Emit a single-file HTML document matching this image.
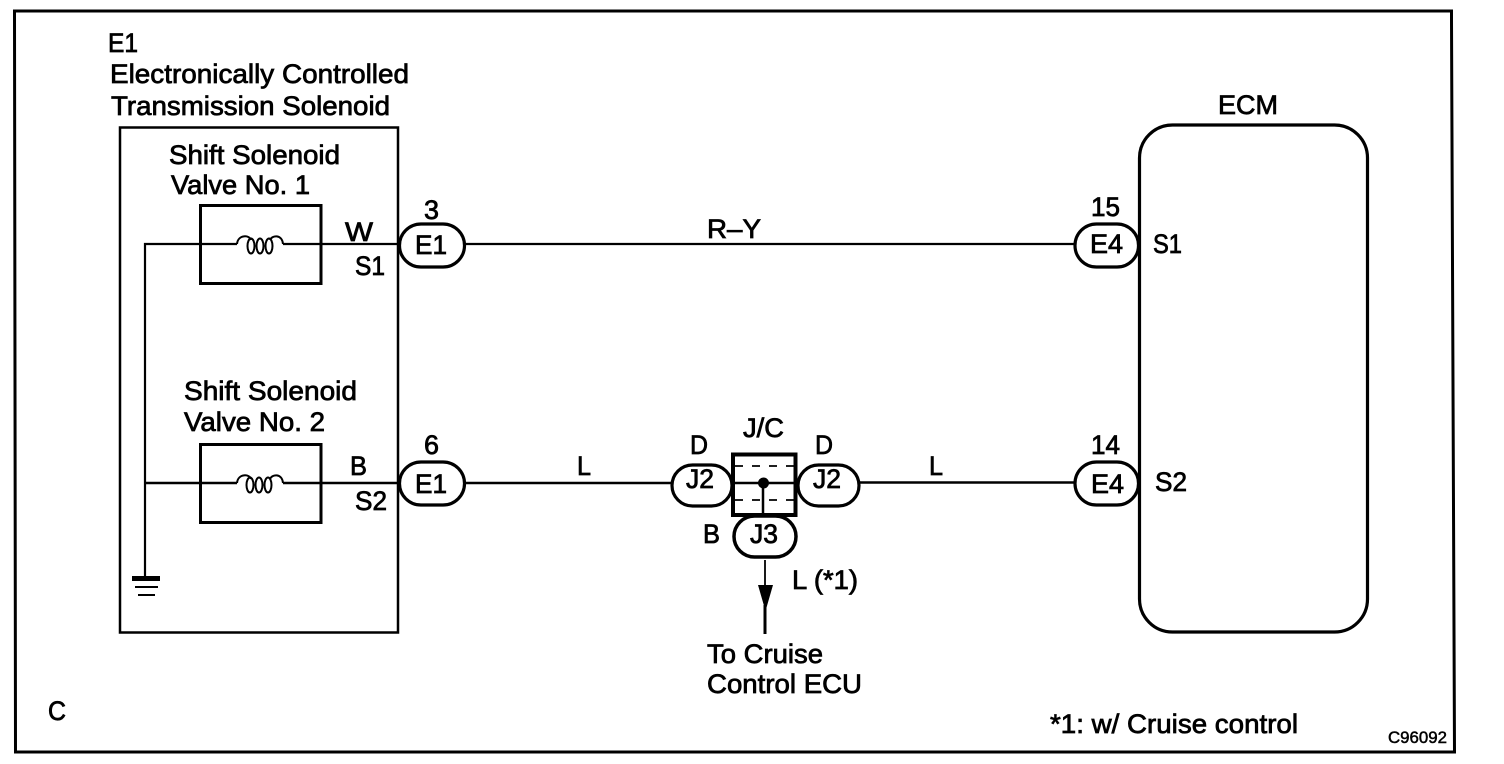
<!DOCTYPE html>
<html><head><meta charset="utf-8"><style>
html,body{margin:0;padding:0;background:#fff}
svg{display:block}
text{font-family:"Liberation Sans",Arial,sans-serif;font-size:26.5px;fill:#000;stroke:#000;stroke-width:.75}
</style></head><body>
<svg width="1504" height="764" viewBox="0 0 1504 764" xmlns="http://www.w3.org/2000/svg">
<rect width="1504" height="764" fill="#fff"/>
<g fill="none" stroke="#000">
<path d="M14.5 11H1451.500V20L1454.500 752H15.500Z" stroke-width="3"/>
<rect x="120" y="127.500" width="278" height="505" stroke-width="2.500"/>
<rect x="200.500" y="205.500" width="120.500" height="78" stroke-width="3"/>
<rect x="200.500" y="444.500" width="120.500" height="78" stroke-width="3"/>
<rect x="1139.500" y="125" width="228" height="507" rx="33" ry="33" stroke-width="3.200"/>
<path d="M145 578V244H237M283 244H398M465 244H1074" stroke-width="2.200"/>
<path d="M145 483H237M283 483H398M465 483H671M860 482.500H1074" stroke-width="2.500"/>
<path d="M237 244C238 234 250 235 251 240M270 240C272 235 282 234 283 244" stroke-width="2"/>
<path d="M237 483C238 473 250 474 251 479M270 479C272 474 282 473 283 483" stroke-width="2"/>
<ellipse cx="251" cy="246" rx="3.500" ry="7.500" stroke-width="2"/>
<ellipse cx="260" cy="246" rx="3.500" ry="7.500" stroke-width="2"/>
<ellipse cx="269" cy="246" rx="3.500" ry="7.500" stroke-width="2"/>
<ellipse cx="250" cy="485" rx="3.500" ry="7.500" stroke-width="2"/>
<ellipse cx="259" cy="485" rx="3.500" ry="7.500" stroke-width="2"/>
<ellipse cx="268" cy="485" rx="3.500" ry="7.500" stroke-width="2"/>
<rect x="399.500" y="224" width="65" height="43" rx="21.500" stroke-width="3.200" fill="#fff"/>
<rect x="399.500" y="462" width="65" height="43" rx="21.500" stroke-width="3.200" fill="#fff"/>
<rect x="1075" y="224" width="63.500" height="43" rx="21.500" stroke-width="3.200" fill="#fff"/>
<rect x="1075" y="462" width="63.500" height="43" rx="21.500" stroke-width="3.200" fill="#fff"/>
<rect x="672" y="465" width="60" height="41" rx="20.500" stroke-width="3.200" fill="#fff"/>
<rect x="798" y="465" width="61" height="41" rx="20.500" stroke-width="3.200" fill="#fff"/>
<rect x="734" y="516" width="62" height="41" rx="20.500" stroke-width="3.500" fill="#fff"/>
<rect x="733" y="454.500" width="62.500" height="60.500" stroke-width="4" fill="#fff"/>
<path d="M733 483H796M763 483V515" stroke-width="2.500"/>
<path d="M735 466H795M735 500H795" stroke-width="1.800" stroke-dasharray="8 9"/>
<path d="M765 560V590" stroke-width="1.800"/>
<path d="M765 605V634" stroke-width="3"/>
</g>
<circle cx="763.500" cy="483" r="5.500" fill="#000"/>
<path d="M758 585H773L765.500 611Z" fill="#000"/>
<rect x="132" y="576" width="28" height="5" fill="#000"/>
<rect x="135" y="586" width="23" height="2" fill="#000"/>
<rect x="138" y="594" width="17" height="2" fill="#000"/>

<text x="108" y="52" lengthAdjust="spacingAndGlyphs" textLength="30">E1</text>
<text x="110" y="83" lengthAdjust="spacingAndGlyphs" textLength="299">Electronically Controlled</text>
<text x="111" y="115" lengthAdjust="spacingAndGlyphs" textLength="279">Transmission Solenoid</text>
<text x="169" y="164" lengthAdjust="spacingAndGlyphs" textLength="171">Shift Solenoid</text>
<text x="171" y="194" lengthAdjust="spacingAndGlyphs" textLength="139">Valve No. 1</text>
<text x="184" y="400" lengthAdjust="spacingAndGlyphs" textLength="173">Shift Solenoid</text>
<text x="184" y="431" lengthAdjust="spacingAndGlyphs" textLength="141">Valve No. 2</text>
<text x="345" y="241" lengthAdjust="spacingAndGlyphs" textLength="28">W</text>
<text x="355" y="275" lengthAdjust="spacingAndGlyphs" textLength="30">S1</text>
<text x="424" y="219" lengthAdjust="spacingAndGlyphs" textLength="15">3</text>
<text x="415" y="254" lengthAdjust="spacingAndGlyphs" textLength="32">E1</text>
<text x="350" y="475" lengthAdjust="spacingAndGlyphs" textLength="17">B</text>
<text x="355" y="510" lengthAdjust="spacingAndGlyphs" textLength="32">S2</text>
<text x="424" y="454" lengthAdjust="spacingAndGlyphs" textLength="15">6</text>
<text x="415" y="493" lengthAdjust="spacingAndGlyphs" textLength="32">E1</text>
<text x="707" y="238" lengthAdjust="spacingAndGlyphs" textLength="54">R–Y</text>
<text x="577" y="475" lengthAdjust="spacingAndGlyphs" textLength="14">L</text>
<text x="929" y="475" lengthAdjust="spacingAndGlyphs" textLength="14">L</text>
<text x="743" y="437" lengthAdjust="spacingAndGlyphs" textLength="41">J/C</text>
<text x="690" y="454" lengthAdjust="spacingAndGlyphs" textLength="18">D</text>
<text x="815" y="454" lengthAdjust="spacingAndGlyphs" textLength="18">D</text>
<text x="686" y="488" lengthAdjust="spacingAndGlyphs" textLength="28">J2</text>
<text x="813" y="488" lengthAdjust="spacingAndGlyphs" textLength="28">J2</text>
<text x="703" y="543" lengthAdjust="spacingAndGlyphs" textLength="17">B</text>
<text x="750" y="543" lengthAdjust="spacingAndGlyphs" textLength="28">J3</text>
<text x="792" y="589" lengthAdjust="spacingAndGlyphs" textLength="66">L (*1)</text>
<text x="707" y="663" lengthAdjust="spacingAndGlyphs" textLength="116">To Cruise</text>
<text x="707" y="693" lengthAdjust="spacingAndGlyphs" textLength="155">Control ECU</text>
<text x="1091" y="216" lengthAdjust="spacingAndGlyphs" textLength="29">15</text>
<text x="1090" y="253" lengthAdjust="spacingAndGlyphs" textLength="33">E4</text>
<text x="1153" y="253" lengthAdjust="spacingAndGlyphs" textLength="29">S1</text>
<text x="1091" y="454" lengthAdjust="spacingAndGlyphs" textLength="29">14</text>
<text x="1091" y="493" lengthAdjust="spacingAndGlyphs" textLength="33">E4</text>
<text x="1155" y="491" lengthAdjust="spacingAndGlyphs" textLength="32">S2</text>
<text x="1218" y="114" lengthAdjust="spacingAndGlyphs" textLength="60">ECM</text>
<text x="48" y="720" lengthAdjust="spacingAndGlyphs" textLength="18">C</text>
<text x="1050" y="733" lengthAdjust="spacingAndGlyphs" textLength="248">*1: w/ Cruise control</text>
<text x="1388" y="743" lengthAdjust="spacingAndGlyphs" textLength="59" style="font-size:17px;stroke-width:.5">C96092</text>
</svg>
</body></html>
